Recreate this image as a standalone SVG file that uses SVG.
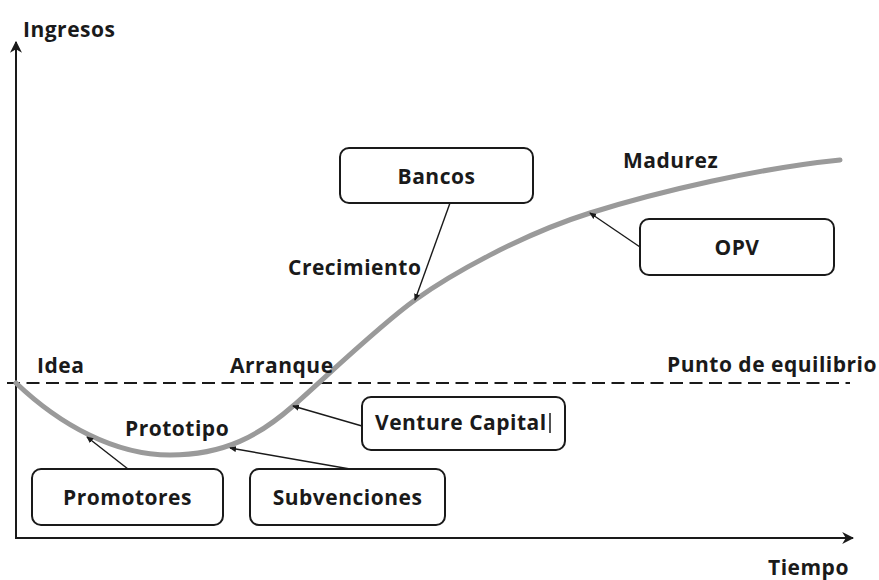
<svg xmlns="http://www.w3.org/2000/svg" width="879" height="580" viewBox="0 0 879 580">
  <style>
    .lbl { font-family: "Open Sans", "Liberation Sans", sans-serif; font-weight: 700; font-size: 21px; letter-spacing: 0.5px; fill: #1a1a1a; }
    .box { fill: #ffffff; stroke: #1a1a1a; stroke-width: 2; }
    .axis { stroke: #1a1a1a; stroke-width: 2; fill: none; }
    .conn { stroke: #1a1a1a; stroke-width: 1.4; fill: none; marker-end: url(#tip); }
  </style>
  <defs>
    <marker id="tip" viewBox="0 0 8 8" refX="7" refY="4" markerWidth="7" markerHeight="7" orient="auto" markerUnits="userSpaceOnUse">
      <path d="M0,0.5 L8,4 L0,7.5 Z" fill="#1a1a1a"/>
    </marker>
    <marker id="axtip" viewBox="0 0 10 10" refX="9" refY="5" markerWidth="12" markerHeight="12" orient="auto" markerUnits="userSpaceOnUse">
      <path d="M0,0 L10,5 L0,10 L3,5 Z" fill="#1a1a1a"/>
    </marker>
  </defs>
  <rect width="879" height="580" fill="#ffffff"/>

  <!-- axes -->
  <g id="axes">
    <path class="axis" d="M16,538 L16,42" marker-end="url(#axtip)"/>
    <path class="axis" d="M15,538 L853,538" marker-end="url(#axtip)"/>
    <line x1="7" y1="383" x2="850" y2="383" stroke="#1a1a1a" stroke-width="2" stroke-dasharray="13,6.5"/>
    <text class="lbl" x="23" y="37">Ingresos</text>
    <text class="lbl" x="768" y="575">Tiempo</text>
  </g>

  <!-- growth curve -->
  <path id="curve" d="M16,383 C60,425 115,455 170,455 C225,455 260,435 293,406 C326,377 380,325 415,300 C450,275 520,235 590,213 C660,191 760,168 840,160" fill="none" stroke="#9a9a9a" stroke-width="5" stroke-linecap="round"/>

  <!-- stage labels -->
  <g id="stages">
    <text class="lbl" x="37" y="373">Idea</text>
    <text class="lbl" x="230" y="373">Arranque</text>
    <text class="lbl" x="667" y="372">Punto de equilibrio</text>
    <text class="lbl" x="125" y="436">Prototipo</text>
    <text class="lbl" x="288" y="275">Crecimiento</text>
    <text class="lbl" x="623" y="168">Madurez</text>
  </g>

  <!-- connectors -->
  <g id="connectors">
    <path class="conn" d="M128,469 L87,437"/>
    <path class="conn" d="M350,469 L230,448"/>
    <path class="conn" d="M362,426 L293,406"/>
    <path class="conn" d="M450,203 L415,300"/>
    <path class="conn" d="M640,247 L590,213"/>
  </g>

  <!-- funding sources -->
  <g id="bancos">
    <rect class="box" x="340" y="148" width="193" height="55" rx="9"/>
    <text class="lbl" x="436.5" y="184" text-anchor="middle">Bancos</text>
  </g>
  <g id="opv">
    <rect class="box" x="640" y="219" width="194" height="56" rx="9"/>
    <text class="lbl" x="737" y="255" text-anchor="middle">OPV</text>
  </g>
  <g id="venture-capital">
    <rect class="box" x="362" y="397" width="203" height="53" rx="9"/>
    <text class="lbl" x="375" y="430">Venture Capital</text>
    <line x1="550" y1="413" x2="550" y2="433" stroke="#1a1a1a" stroke-width="1.5"/>
  </g>
  <g id="promotores">
    <rect class="box" x="32" y="469" width="191" height="56" rx="9"/>
    <text class="lbl" x="127.5" y="505" text-anchor="middle">Promotores</text>
  </g>
  <g id="subvenciones">
    <rect class="box" x="250" y="469" width="195" height="56" rx="9"/>
    <text class="lbl" x="347.5" y="505" text-anchor="middle">Subvenciones</text>
  </g>
</svg>
